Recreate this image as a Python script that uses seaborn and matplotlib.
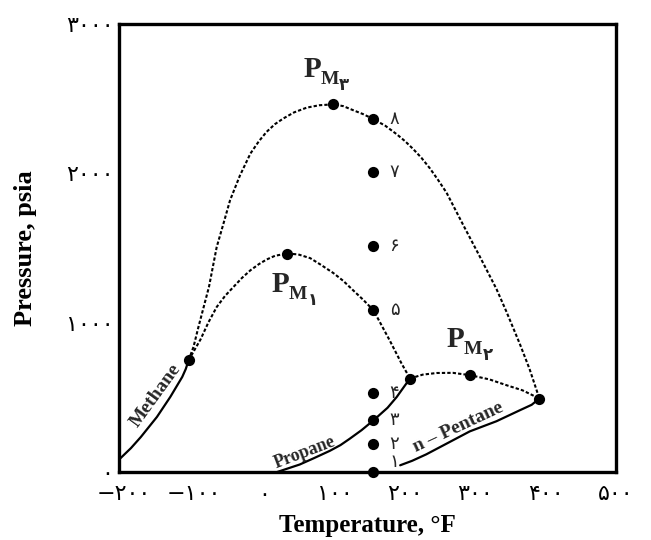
import matplotlib
matplotlib.use("Agg")
import matplotlib.pyplot as plt
import seaborn as sns
import pandas as pd
from matplotlib.transforms import offset_copy

# ---------------- data ----------------
# vapour-pressure curves (solid)
methane_T = [-205, -190, -176, -153, -134, -117, -112, -108]
methane_P = [92, 160, 234, 369, 503, 637, 690, 748]
propane_T = [18, 50, 70, 93, 108, 121, 138, 155, 175, 188, 200, 207]
propane_P = [0, 50, 92, 142, 180, 222, 280, 346, 430, 502, 581, 626]
pentane_T = [193, 210, 230, 259, 292, 330, 363, 380, 391]
pentane_P = [45, 75, 118, 190, 272, 340, 413, 450, 492]

# critical loci of the mixtures (dotted)
c1c3_T = [-108, -91, -80, -68, -56, -44, -32, -20, -8, 3, 15, 32, 48, 65, 80, 98,
          112, 126, 140, 155, 178, 195, 207]
c1c3_P = [748, 888, 1000, 1105, 1180, 1240, 1300, 1351, 1392, 1423, 1448, 1463, 1457,
          1432, 1388, 1332, 1280, 1217, 1155, 1083, 882, 726, 626]
c1c5_T = [-108, -101, -94, -79, -68, -58, -49, -35, -20, -8, 3, 15, 27, 42, 60, 78,
          98, 112, 126, 140, 155, 172, 188, 200, 211, 223, 235, 247, 259, 282, 306,
          330, 344, 363, 377, 391]
c1c5_P = [748, 838, 971, 1240, 1507, 1670, 1820, 1985, 2133, 2215, 2278, 2330, 2368,
          2408, 2440, 2456, 2462, 2450, 2423, 2397, 2363, 2318, 2262, 2215, 2165,
          2105, 2035, 1955, 1870, 1660, 1445, 1225, 1075, 860, 690, 492]
c3c5_T = [207, 225, 245, 268, 293, 320, 345, 367, 391]
c3c5_P = [626, 652, 663, 664, 648, 620, 580, 547, 492]

# critical points and locus maxima
key_T = [-108, 207, 391, 32, 98, 293]
key_P = [748, 626, 492, 1463, 2462, 648]

# numbered states
state_T = [155, 155, 155, 155, 155, 155, 155, 155]
state_P = [0, 186, 346, 532, 1083, 1512, 2006, 2363]
state_labels = ["۱", "۲", "۳", "۴", "۵", "۶", "۷", "۸"]

# P_M labels: (main letter, subscript, index, T, P)
pm_labels = [("P", "M", "۳", 55, 2645),
             ("P", "M", "۱", 10, 1206),
             ("P", "M", "۲", 259, 838)]

x_ticks = [-200, -100, 0, 100, 200, 300, 400, 500]
x_tick_labels = ["−۲۰۰", "−۱۰۰", "۰", "۱۰۰", "۲۰۰", "۳۰۰", "۴۰۰", "۵۰۰"]
y_ticks = [0, 1000, 2000, 3000]
y_tick_labels = ["۰", "۱۰۰۰", "۲۰۰۰", "۳۰۰۰"]

# ---------------- figure ----------------
sns.set_theme(style="white")
plt.rcParams["font.family"] = ["Liberation Serif", "DejaVu Sans"]

fig = plt.figure(figsize=(6.51, 5.40), dpi=100)
ax = fig.add_axes([119 / 651, 1 - 472 / 540, (616 - 119) / 651, (472 - 24) / 540])

solid = [(methane_T, methane_P), (propane_T, propane_P), (pentane_T, pentane_P)]
for T, P in solid:
    df = pd.DataFrame({"T": T, "P": P})
    sns.lineplot(data=df, x="T", y="P", sort=False, estimator=None, ax=ax,
                 color="black", linewidth=1.6)

dotted = [(c1c3_T, c1c3_P), (c1c5_T, c1c5_P), (c3c5_T, c3c5_P)]
for T, P in dotted:
    df = pd.DataFrame({"T": T, "P": P})
    sns.lineplot(data=df, x="T", y="P", sort=False, estimator=None, ax=ax,
                 color="black", linewidth=1.5, linestyle=(0, (1.6, 1.0)))

sns.scatterplot(x=key_T, y=key_P, ax=ax, color="black", s=65, edgecolor="black",
                linewidth=0, zorder=5, clip_on=False)
sns.scatterplot(x=state_T, y=state_P, ax=ax, color="black", s=65, edgecolor="black",
                linewidth=0, zorder=5, clip_on=False)

# state numbers
for T, P, lab in zip(state_T, state_P, state_labels):
    dy = 10 if lab == "۱" else 0
    tr = offset_copy(ax.transData, fig=fig, x=21, y=dy, units="dots")
    ax.text(T, P, lab, transform=tr, ha="center", va="center", fontsize=13,
            family=["DejaVu Sans"])

# P_M labels
for main, sub, idx, T, P in pm_labels:
    ax.text(T, P, main, ha="left", va="baseline", fontsize=21, fontweight="bold",
            family=["Liberation Serif"])
    tr1 = offset_copy(ax.transData, fig=fig, x=17, y=-7, units="dots")
    ax.text(T, P, sub, transform=tr1, ha="left", va="baseline", fontsize=14,
            fontweight="bold", family=["Liberation Serif"])
    tr2 = offset_copy(ax.transData, fig=fig, x=36, y=-13, units="dots")
    ax.text(T, P, idx, transform=tr2, ha="left", va="baseline", fontsize=12,
            fontweight="bold", family=["DejaVu Sans"])

# curve names
ax.text(-155, 514, "Methane", rotation=54, ha="center", va="center",
        fontsize=14, fontweight="bold", family=["Liberation Serif"])
ax.text(57, 131, "Propane", rotation=21, ha="center", va="center",
        fontsize=13, fontweight="bold", family=["Liberation Serif"])
ax.text(275, 299, "n – Pentane", rotation=25, ha="center", va="center",
        fontsize=14, fontweight="bold", family=["Liberation Serif"])

ax.set_xlim(-207, 500)
ax.set_ylim(0, 3000)
ax.set_xticks(x_ticks)
ax.set_xticklabels(x_tick_labels, family=["DejaVu Sans"], fontsize=16)
ax.set_yticks(y_ticks)
ax.set_yticklabels(y_tick_labels, family=["DejaVu Sans"], fontsize=16)
ax.tick_params(direction="in", length=8, width=2.2, color="black", pad=4,
               labelcolor="black")
ax.tick_params(axis="x", pad=9)
for sp in ax.spines.values():
    sp.set_visible(True)
    sp.set_color("black")
    sp.set_linewidth(2.4)

ax.set_xlabel("Temperature, °F", fontsize=18, fontweight="bold",
              family=["Liberation Serif"], labelpad=7, color="black")
ax.set_ylabel("Pressure, psia", fontsize=19, fontweight="bold",
              family=["Liberation Serif"], labelpad=21, color="black")
ax.grid(False)

fig.savefig("out.png", dpi=100, facecolor="white")
